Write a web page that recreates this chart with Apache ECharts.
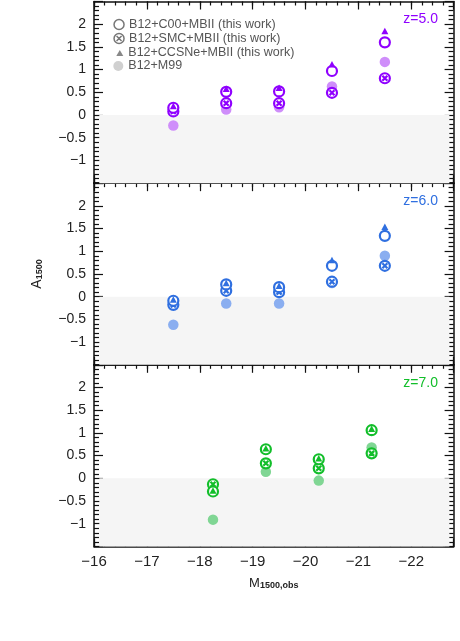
<!DOCTYPE html>
<html>
<head>
<meta charset="utf-8">
<script src="https://cdn.jsdelivr.net/npm/echarts@6/dist/echarts.min.js"></script>
<style>
  html, body { margin: 0; padding: 0; background: #fff; }
  #main { width: 460px; height: 641px; }
</style>
</head>
<body>
<div id="main"></div>
<script>
// magnitude bins (M1500,obs)
const magZ5 = [-17.5, -18.5, -19.5, -20.5, -21.5];
const magZ6 = [-17.5, -18.5, -19.5, -20.5, -21.5];
const magZ7 = [-18.25, -19.25, -20.25, -21.25];

// A1500, z=5
const c00Z5 = [0.16, 0.51, 0.52, 0.97, 1.6];
const smcZ5 = [0.08, 0.26, 0.26, 0.49, 0.81];
const ccsnZ5 = [0.2, 0.58, 0.6, 1.12, 1.85];
const m99Z5 = [-0.23, 0.12, 0.17, 0.63, 1.17];
// A1500, z=6
const c00Z6 = [-0.09, 0.27, 0.21, 0.68, 1.34];
const smcZ6 = [-0.18, 0.13, 0.1, 0.33, 0.68];
const ccsnZ6 = [-0.06, 0.3, 0.24, 0.81, 1.54];
const m99Z6 = [-0.62, -0.15, -0.15, 0.3, 0.9];
// A1500, z=7
const c00Z7 = [-0.29, 0.64, 0.42, 1.06];
const smcZ7 = [-0.13, 0.33, 0.22, 0.55];
const ccsnZ7 = [-0.27, 0.66, 0.44, 1.09];
const m99Z7 = [-0.91, 0.145, -0.05, 0.68];

const panelLabels = ["z=5.0", "z=6.0", "z=7.0"];
const modelNames = [
  "B12+C00+MBII (this work)",
  "B12+SMC+MBII (this work)",
  "B12+CCSNe+MBII (this work)",
  "B12+M99",
];
const yTicks = [-1.5, -1, -0.5, 0, 0.5, 1, 1.5, 2, 2.5];
const shadeX = [-16.1, -22.72];

const panels = [
  { mag: magZ5, c00: c00Z5, smc: smcZ5, ccsn: ccsnZ5, m99: m99Z5, color: "#8f00ff", light: "#cf8efa" },
  { mag: magZ6, c00: c00Z6, smc: smcZ6, ccsn: ccsnZ6, m99: m99Z6, color: "#2f6fe0", light: "#8aaef0" },
  { mag: magZ7, c00: c00Z7, smc: smcZ7, ccsn: ccsnZ7, m99: m99Z7, color: "#12be2a", light: "#80d694" },
];

const FONT = "Liberation Sans";
const xMin = -22.8, xMax = -16;
const yMin = yTicks[0], yMax = yTicks[yTicks.length - 1];
// circle with a cross inside
const otimes = "path://M10,0A10,10,0,1,1,-10,0A10,10,0,1,1,10,0Z M-5,-5L5,5M5,-5L-5,5";

const minus = (v) => (v < 0 ? "\u2212" + Math.abs(v) : "" + v);
const pairs = (xs, ys) => xs.map((x, i) => [x, ys[i]]);

const gridTop = [1.5, 183.15, 364.8];
const gridH = 181.65;

const grids = [];
const xAxes = [];
const yAxes = [];
const series = [];
const titles = [];

panels.forEach((p, i) => {
  const last = i === 2;
  grids.push({ left: 94, top: gridTop[i], width: 359.6, height: gridH });

  ["bottom", "top"].forEach((pos) => {
    const labelled = last && pos === "bottom";
    // major ticks
    xAxes.push({
      type: "value", gridIndex: i, position: pos, inverse: true,
      min: xMin, max: xMax, splitNumber: 7,
      axisLine: { show: true, onZero: false, lineStyle: { color: "#111", width: 1.5 } },
      axisTick: { show: true, inside: true, length: 8, lineStyle: { color: "#111", width: 1.2 } },
      axisLabel: {
        show: labelled, margin: 8, fontSize: 15, color: "#222", fontFamily: FONT,
        formatter: (v) => (Number.isInteger(v) ? minus(v) : ""),
      },
      splitLine: { show: false },
      name: labelled ? "{m|M}{s|1500,obs}" : "",
      nameLocation: "middle", nameGap: 30,
      nameTextStyle: {
        rich: {
          m: { fontSize: 13, color: "#222", fontFamily: FONT, lineHeight: 14, verticalAlign: "top" },
          s: { fontSize: 9, color: "#222", fontFamily: FONT, fontWeight: "bold", lineHeight: 9, verticalAlign: "bottom", padding: [8, 0, 0, 0] },
        },
      },
    });
    // minor ticks
    xAxes.push({
      type: "value", gridIndex: i, position: pos, inverse: true,
      min: xMin, max: xMax, interval: 0.2,
      axisLine: { show: false, onZero: false },
      axisTick: { show: true, inside: true, length: 4, lineStyle: { color: "#111", width: 1.2 } },
      axisLabel: { show: false },
      splitLine: { show: false },
    });
  });

  ["left", "right"].forEach((pos) => {
    const labelled = pos === "left";
    yAxes.push({
      type: "value", gridIndex: i, position: pos,
      min: yMin, max: yMax, interval: 0.5,
      axisLine: { show: true, onZero: false, lineStyle: { color: "#111", width: 1.5 } },
      axisTick: { show: true, inside: true, length: 9, lineStyle: { color: "#111", width: 1.2 } },
      minorTick: { show: true, splitNumber: 5, length: 5, lineStyle: { color: "#111", width: 1.2 } },
      axisLabel: {
        show: labelled, margin: 8, fontSize: 14, color: "#222", fontFamily: FONT,
        formatter: (v) => (v === yMin || v === yMax ? "" : minus(v)),
      },
      splitLine: { show: false },
      name: labelled && i === 1 ? "{a|A}{s|1500}" : "",
      nameLocation: "middle", nameGap: 50, nameRotate: 90,
      nameTextStyle: {
        rich: {
          a: { fontSize: 14, color: "#222", fontFamily: FONT, lineHeight: 14, verticalAlign: "top" },
          s: { fontSize: 9, color: "#222", fontFamily: FONT, fontWeight: "bold", lineHeight: 9, verticalAlign: "bottom", padding: [8, 0, 0, 0] },
        },
      },
    });
  });

  const xi = 4 * i, yi = 2 * i;
  // grey band below zero
  series.push({
    type: "scatter", xAxisIndex: xi, yAxisIndex: yi, data: [], z: 1, silent: true,
    markArea: {
      silent: true,
      itemStyle: { color: "#f5f5f5" },
      data: [[{ xAxis: shadeX[0], yAxis: 0 }, { xAxis: shadeX[1], yAxis: yMin }]],
    },
  });
  series.push({
    name: modelNames[3], type: "scatter", xAxisIndex: xi, yAxisIndex: yi, z: 3,
    symbol: "circle", symbolSize: 10.5, data: pairs(p.mag, p.m99),
    itemStyle: { color: p.light, opacity: 1 },
  });
  series.push({
    name: modelNames[1], type: "scatter", xAxisIndex: xi, yAxisIndex: yi, z: 3,
    symbol: otimes, symbolSize: 10, data: pairs(p.mag, p.smc),
    itemStyle: { color: "#fff", borderColor: p.color, borderWidth: 2.2, opacity: 1 },
  });
  series.push({
    name: modelNames[0], type: "scatter", xAxisIndex: xi, yAxisIndex: yi, z: 3,
    symbol: "circle", symbolSize: 10, data: pairs(p.mag, p.c00),
    itemStyle: { color: "#fff", borderColor: p.color, borderWidth: 2.2, opacity: 1 },
  });
  series.push({
    name: modelNames[2], type: "scatter", xAxisIndex: xi, yAxisIndex: yi, z: 3,
    symbol: "triangle", symbolSize: [7, 6.5], data: pairs(p.mag, p.ccsn),
    itemStyle: { color: p.color, opacity: 1 },
  });

  titles.push({
    text: panelLabels[i], right: 22, top: gridTop[i] + 11, padding: 0,
    textStyle: { color: p.color, fontSize: 14, fontWeight: "normal", fontFamily: FONT },
  });
});

// one legend per row so each icon can have its own size
const legendRows = [
  { name: modelNames[0], icon: "circle", w: 10, h: 10, style: { color: "#fff", borderColor: "#777", borderWidth: 1.5 } },
  { name: modelNames[1], icon: otimes, w: 10, h: 10, style: { color: "#fff", borderColor: "#777", borderWidth: 1.5 } },
  { name: modelNames[2], icon: "triangle", w: 7, h: 6, style: { color: "#888" } },
  { name: modelNames[3], icon: "circle", w: 10, h: 10, style: { color: "#d0d0d0" } },
];
const legendTop = [18, 32, 46.5, 59.5];
const legends = legendRows.map((r, k) => ({
  left: 128.3 - 5 - r.w, top: legendTop[k], padding: 0,
  itemWidth: r.w, itemHeight: r.h, selectedMode: false,
  data: [{ name: r.name, icon: r.icon, itemStyle: r.style }],
  textStyle: { fontSize: 12.5, color: "#555", fontFamily: FONT },
}));

const myChart = echarts.init(document.getElementById("main"));
myChart.setOption({
  animation: false,
  backgroundColor: "#fff",
  title: titles,
  legend: legends,
  grid: grids,
  xAxis: xAxes,
  yAxis: yAxes,
  series: series,
});
</script>
</body>
</html>
